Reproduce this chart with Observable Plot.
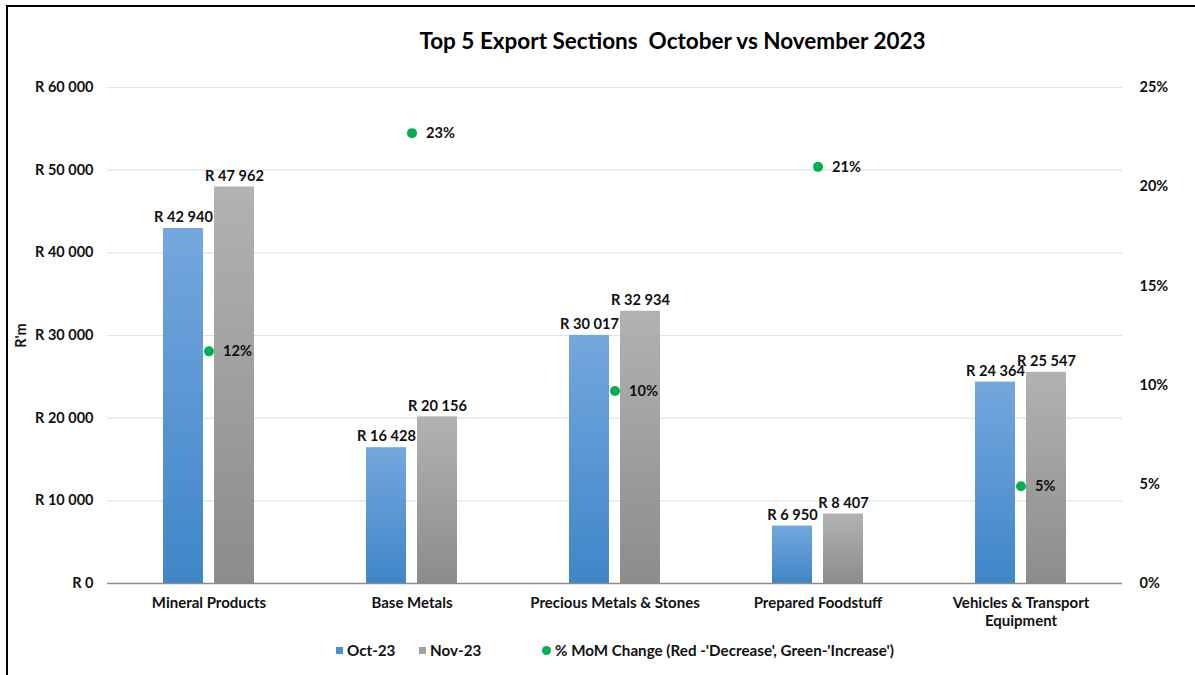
<!DOCTYPE html>
<html><head><meta charset="utf-8">
<script src="https://cdn.jsdelivr.net/npm/d3@7"></script>
<script src="https://cdn.jsdelivr.net/npm/@observablehq/plot@0.6"></script>
<style>
body{margin:0;background:#fff;font-family:Lato,"Open Sans",sans-serif;}
#wrap{position:relative;width:1195px;height:675px;overflow:hidden;background:#fff;}
#chart{position:absolute;left:0;top:0;}
#frame{position:absolute;left:6px;top:5px;width:1220px;height:720px;border:2px solid #000;pointer-events:none;}
#title{position:absolute;top:27px;left:150px;width:1045px;text-align:center;font-size:22.5px;font-weight:bold;color:#000;white-space:pre;}
.leg{position:absolute;top:641px;font-size:15.2px;font-weight:bold;color:#111;display:flex;align-items:center;white-space:pre;}
.sw{width:7px;height:7px;margin-right:4px;}
.dotl{width:9px;height:9px;border-radius:50%;background:#00b050;margin-right:4px;}
</style></head>
<body>
<div id="wrap">
  <div id="chart"></div>
  <div id="title">Top 5 Export Sections  October vs November 2023</div>
  <div class="leg" style="left:336px"><div class="sw" style="background:#4a8fd2"></div>Oct-23</div>
  <div class="leg" style="left:419px"><div class="sw" style="background:#a0a0a0"></div>Nov-23</div>
  <div class="leg" style="left:542px"><div class="dotl"></div>% MoM Change (Red -'Decrease', Green-'Increase')</div>
  <div id="frame"></div>
</div>
<script>
const categories = ["Mineral Products","Base Metals","Precious Metals & Stones","Prepared Foodstuff","Vehicles & Transport Equipment"];
const categoryLabels = ["Mineral Products","Base Metals","Precious Metals & Stones","Prepared Foodstuff","Vehicles & Transport\nEquipment"];
const series = ["Oct-23","Nov-23"];
const oct23 = [42940,16428,30017,6950,24364];
const nov23 = [47962,20156,32934,8407,25547];
const momPct = [11.7,22.7,9.7,21.0,4.9];
const yTicks = [0,10000,20000,30000,40000,50000,60000];
const pctTicks = [0,5,10,15,20,25];

const yMax = 60000, pctMax = 25, k = yMax/pctMax;
const bars = [];
categories.forEach((c,i)=>{
  bars.push({cat:c, series:series[0], value:oct23[i]});
  bars.push({cat:c, series:series[1], value:nov23[i]});
});
const changes = categories.map((c,i)=>({cat:c, pct:momPct[i]}));
const fmtR = d => "R " + d3.format(",")(d).replace(/,/g," ");
const labelOf = d => categoryLabels[categories.indexOf(d)];

const chart = Plot.plot({
  width:1195, height:640,
  marginTop:87, marginBottom:57, marginLeft:106, marginRight:72,
  style:{background:"transparent", fontFamily:"Lato, 'Open Sans', sans-serif", fontSize:"14px", fontWeight:"bold", color:"#111"},
  fx:{domain:categories, padding:0, label:null},
  x:{domain:series, paddingInner:0.21, paddingOuter:1.06, axis:null},
  y:{domain:[0,yMax], label:null},
  marks:[
    Plot.gridY({ticks:yTicks, stroke:"#dce3ec", strokeOpacity:1, strokeWidth:1.2}),
    Plot.barY(bars.filter(d=>d.series===series[0]),{fx:"cat", x:"series", y:"value", fill:"url(#gBlue)"}),
    Plot.barY(bars.filter(d=>d.series===series[1]),{fx:"cat", x:"series", y:"value", fill:"url(#gGray)"}),
    Plot.ruleY([0],{stroke:"#8c8c8c", strokeWidth:1.5}),
    Plot.text(bars,{fx:"cat", x:"series", y:"value", text:d=>fmtR(d.value), dy:-11, fontSize:14.6, fontWeight:"bold", fill:"#111"}),
    Plot.dot(changes,{fx:"cat", y:d=>d.pct*k, r:5, fill:"#00b050", stroke:"none"}),
    Plot.text(changes,{fx:"cat", y:d=>d.pct*k, text:d=>Math.round(d.pct)+"%", dx:14, textAnchor:"start", fontSize:14.6, fontWeight:"bold", fill:"#111"}),
    Plot.axisY({ticks:yTicks, tickFormat:fmtR, tickSize:0, tickPadding:14, label:"R'm", labelAnchor:"center", labelArrow:"none", labelOffset:92, fontSize:14.5}),
    Plot.axisY({anchor:"right", ticks:pctTicks.map(p=>p*k), tickFormat:d=>Math.round(d/k)+"%", tickSize:0, tickPadding:17, textAnchor:"start", label:null, fontSize:14.5}),
    Plot.axisFx({anchor:"bottom", tickSize:0, tickPadding:12, tickFormat:labelOf, label:null, fontSize:15, lineHeight:1.2})
  ]
});

const defs = d3.select(chart).insert("defs", ":first-child");
const gb = defs.append("linearGradient").attr("id","gBlue").attr("x1",0).attr("y1",0).attr("x2",0).attr("y2",1);
gb.append("stop").attr("offset","0%").attr("stop-color","#74a7dd");
gb.append("stop").attr("offset","100%").attr("stop-color","#3f86c8");
const gg = defs.append("linearGradient").attr("id","gGray").attr("x1",0).attr("y1",0).attr("x2",0).attr("y2",1);
gg.append("stop").attr("offset","0%").attr("stop-color","#b2b2b2");
gg.append("stop").attr("offset","100%").attr("stop-color","#8c8c8c");

document.getElementById("chart").appendChild(chart);
</script>
</body></html>
